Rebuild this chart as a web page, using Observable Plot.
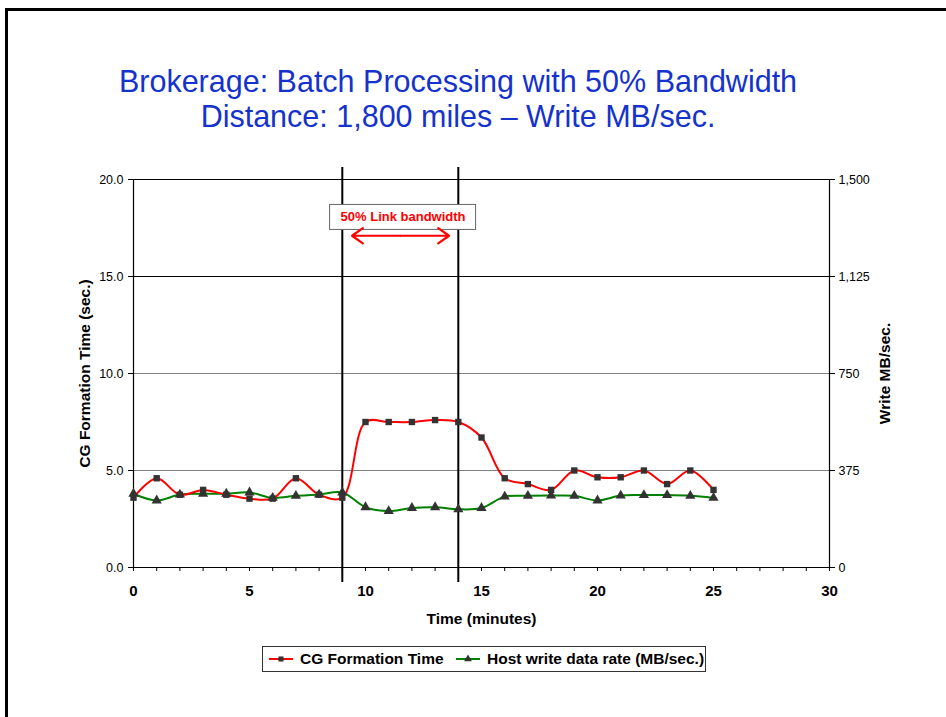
<!DOCTYPE html>
<html>
<head>
<meta charset="utf-8">
<script src="https://cdn.jsdelivr.net/npm/d3@7"></script>
<script src="https://cdn.jsdelivr.net/npm/@observablehq/plot@0.6"></script>
<style>
  body { margin: 0; background: #fff; overflow: hidden; font-family: "Liberation Sans", Arial, sans-serif; }
  #page { position: relative; width: 946px; height: 717px; overflow: hidden; background: #fff; }
  #frame { position: absolute; left: 5px; top: 8px; width: 2000px; height: 2000px; border-top: 3px solid #000; border-left: 3px solid #000; }
  #chart { position: absolute; left: 0; top: 0; }
  #title { position: absolute; left: 0; top: 64px; width: 916px; text-align: center; color: #1533cc; font-size: 30.5px; line-height: 35px; white-space: nowrap; }
  #legend { position: absolute; left: 262px; top: 646px; width: 442px; height: 24px; border: 1px solid #333;
            font-weight: bold; font-size: 15.5px; color: #000; background: #fff; }
  #legend .item { position: absolute; top: 0; height: 24px; display: flex; align-items: center; white-space: nowrap; }
  #legend svg { margin-right: 6px; }
</style>
</head>
<body>
<div id="page">
  <div id="frame"></div>
  <div id="chart"></div>
  <div id="title">Brokerage: Batch Processing with 50% Bandwidth<br>Distance: 1,800 miles – Write MB/sec.</div>
  <div id="legend"></div>
</div>
<script>
// Minutes since the start of the batch run
const minutes = [0, 1, 2, 3, 4, 5, 6, 7, 8, 9, 10, 11, 12, 13, 14, 15, 16, 17, 18, 19, 20, 21, 22, 23, 24, 25];

// Consistency-group formation time (seconds, left axis)
const cgSeconds = [3.6, 4.6, 3.75, 4.0, 3.75, 3.55, 3.55, 4.6, 3.75, 3.6, 7.5, 7.5, 7.5, 7.6, 7.5, 6.7,
                   4.6, 4.3, 4.0, 5.0, 4.65, 4.65, 5.0, 4.3, 5.0, 4.0];

// Host write data rate (MB/sec., right axis)
const writeMBps = [285, 259, 282, 285, 285, 290, 269, 277, 282, 290, 233, 218, 230, 233, 225, 230,
                   274, 277, 278, 277, 259, 278, 280, 280, 277, 269];

const seriesNames = ["CG Formation Time", "Host write data rate (MB/sec.)"];

// Axis ticks
const leftTicks = [0, 5, 10, 15, 20];
const rightTicks = [0, 375, 750, 1125, 1500];
const xLabelTicks = [0, 5, 10, 15, 20, 25, 30];

// Period during which the link ran at half bandwidth (minutes)
const bandwidthWindow = [9, 14];
const bandwidthLabel = "50% Link bandwidth";

const xTitle = "Time (minutes)";
const yLeftTitle = "CG Formation Time (sec.)";
const yRightTitle = "Write MB/sec.";

// Right axis maps onto the left one: 1,500 MB/sec. <-> 20.0 sec.
const ratio = rightTicks[rightTicks.length - 1] / leftTicks[leftTicks.length - 1];

const rows = minutes.map((m, i) => ({minute: m, cg: cgSeconds[i], mb: writeMBps[i]}));

const red = "#ff0000";
const green = "#008000";
const markerFill = "#333333";

// Annotation placement (data units)
const labelX = 11.62, labelY = 18.07;
const arrowFrom = 9.42, arrowTo = 13.6, arrowMid = (9.42 + 13.6) / 2, arrowY = 17.1;

const chart = Plot.plot({
  width: 946,
  height: 717,
  marginLeft: 133,
  marginRight: 117,
  marginTop: 179,
  marginBottom: 150,
  style: {fontFamily: "'Liberation Sans', Arial, sans-serif", fontSize: "12.5px", background: "transparent", color: "#000", overflow: "visible"},
  x: {domain: [0, 30]},
  y: {domain: [0, 20]},
  marks: [
    // gridlines
    Plot.ruleY([5, 10], {stroke: "#808080", strokeWidth: 1}),
    Plot.ruleY([15, 20], {stroke: "#000", strokeWidth: 1}),
    // axis lines
    Plot.ruleX([0, 30], {stroke: "#000", strokeWidth: 1.2}),
    Plot.ruleY([0], {stroke: "#000", strokeWidth: 1.2}),
    // axes
    Plot.axisY({anchor: "left", ticks: leftTicks, tickFormat: d3.format(".1f"), tickSize: 5, tickPadding: 5, label: null, fontSize: 12.5}),
    Plot.axisY({anchor: "right", ticks: rightTicks.map(v => v / ratio), tickFormat: d => d3.format(",")(Math.round(d * ratio)),
                tickSize: 5, tickPadding: 4, label: null, fontSize: 12.5}),
    Plot.axisX({ticks: d3.range(0, 31), tickSize: 4, tickFormat: () => "", label: null}),
    Plot.axisX({ticks: xLabelTicks, tickSize: 0, tickPadding: 18, label: null, fontSize: 15, fontWeight: "bold"}),
    // axis titles
    Plot.text([xTitle], {frameAnchor: "bottom", dy: 56, text: d => d, fontWeight: "bold", fontSize: 15.5}),
    Plot.text([yLeftTitle], {frameAnchor: "left", dx: -48, rotate: -90, textAnchor: "middle", text: d => d, fontWeight: "bold", fontSize: 15.5}),
    Plot.text([yRightTitle], {frameAnchor: "right", dx: 56, rotate: -90, textAnchor: "middle", text: d => d, fontWeight: "bold", fontSize: 15.5}),
    // half-bandwidth window
    Plot.ruleX(bandwidthWindow, {stroke: "#000", strokeWidth: 2, insetTop: -12, insetBottom: -15}),
    Plot.rect([bandwidthLabel], {x1: labelX, x2: labelX, y1: labelY, y2: labelY,
              insetLeft: -73, insetRight: -73, insetTop: -12, insetBottom: -13, fill: "#fff", stroke: "#666"}),
    Plot.text([bandwidthLabel], {x: labelX, y: labelY, text: d => d, fill: red, fontWeight: "bold", fontSize: 13}),
    Plot.arrow([arrowFrom, arrowTo], {x1: arrowMid, x2: d => d, y1: arrowY, y2: arrowY, stroke: red, strokeWidth: 2.2,
               headLength: 9, headAngle: 70}),
    // series
    Plot.line(rows, {x: "minute", y: d => d.mb / ratio, curve: "catmull-rom", stroke: green, strokeWidth: 2}),
    Plot.line(rows, {x: "minute", y: "cg", curve: "catmull-rom", stroke: red, strokeWidth: 2}),
    Plot.dot(rows, {x: "minute", y: d => d.mb / ratio, symbol: "triangle", r: 3.8, fill: markerFill, stroke: "none"}),
    Plot.dot(rows, {x: "minute", y: "cg", symbol: "square", r: 3.6, fill: markerFill, stroke: "none"})
  ]
});
document.getElementById("chart").appendChild(chart);

// Legend built from the series names
const legend = d3.select("#legend");
const icons = [
  {color: red, symbol: d3.symbolSquare, size: 26, left: 5},
  {color: green, symbol: d3.symbolTriangle, size: 26, left: 192}
];
seriesNames.forEach((name, i) => {
  const item = legend.append("div").attr("class", "item").style("left", icons[i].left + "px");
  const svg = item.append("svg").attr("width", 26).attr("height", 10);
  svg.append("line").attr("x1", 1).attr("x2", 25).attr("y1", 5).attr("y2", 5)
     .attr("stroke", icons[i].color).attr("stroke-width", 2);
  svg.append("path").attr("transform", "translate(13,5)")
     .attr("d", d3.symbol(icons[i].symbol, icons[i].size)()).attr("fill", markerFill);
  item.append("span").text(name);
});
</script>
</body>
</html>
